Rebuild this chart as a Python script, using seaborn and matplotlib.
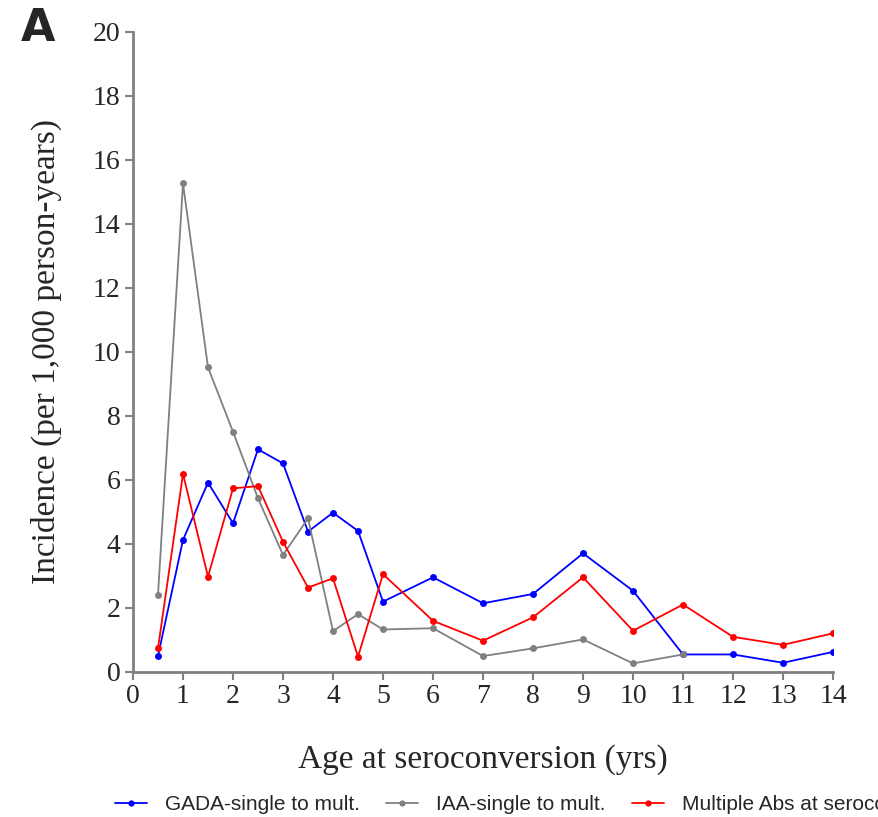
import pandas as pd
import matplotlib
matplotlib.use("Agg")
import matplotlib.pyplot as plt
import seaborn as sns

# Data
ages = [0.5, 1, 1.5, 2, 2.5, 3, 3.5, 4, 4.5, 5, 6, 7, 8, 9, 10, 11, 12, 13, 14]
gada = [0.49, 4.12, 5.91, 4.64, 6.95, 6.51, 4.38, 4.97, 4.40, 2.19, 2.95, 2.14, 2.43, 3.70, 2.53, 0.54, 0.54, 0.28, 0.62]
iaa_ages = [0.5, 1, 1.5, 2, 2.5, 3, 3.5, 4, 4.5, 5, 6, 7, 8, 9, 10, 11]
iaa = [2.40, 15.26, 9.51, 7.50, 5.42, 3.65, 4.79, 1.27, 1.80, 1.32, 1.36, 0.49, 0.73, 1.01, 0.26, 0.54]
multi = [0.73, 6.18, 2.97, 5.73, 5.80, 4.06, 2.63, 2.92, 0.47, 3.05, 1.59, 0.97, 1.70, 2.95, 1.28, 2.10, 1.09, 0.84, 1.20]

series_names = ["GADA-single to mult.", "IAA-single to mult.", "Multiple Abs at seroconversion"]
colors = ["#0000ff", "#808080", "#ff0000"]

df = pd.concat([
    pd.DataFrame({"Age": ages, "Incidence": gada, "Group": series_names[0]}),
    pd.DataFrame({"Age": iaa_ages, "Incidence": iaa, "Group": series_names[1]}),
    pd.DataFrame({"Age": ages, "Incidence": multi, "Group": series_names[2]}),
])

sns.set_style("ticks")
plt.rcParams["font.family"] = ["Liberation Serif", "DejaVu Serif"]

fig = plt.figure(figsize=(8.79, 8.17), dpi=100)
ax = fig.add_axes([0.1513, 0.1778, 0.7964, 0.7834])

sns.lineplot(
    data=df, x="Age", y="Incidence", hue="Group",
    palette=dict(zip(series_names, colors)), hue_order=series_names,
    marker="o", markersize=5, markeredgewidth=0, linewidth=1.3,
    ax=ax, sort=False,
)

ax.set_xlim(0, 14)
ax.set_ylim(0, 20)
ax.set_xticks(range(0, 15))
ax.set_yticks(range(0, 21, 2))
ax.tick_params(axis="both", labelsize=20, length=6, width=1.5, color="#7f7f7f", pad=3)
for s in ["left", "bottom"]:
    ax.spines[s].set_color("#7f7f7f")
    ax.spines[s].set_linewidth(2)
sns.despine(ax=ax)

ax.set_xlabel("Age at seroconversion (yrs)", fontsize=24, labelpad=25)
ax.set_ylabel("Incidence (per 1,000 person-years)", fontsize=24, labelpad=22)

# legend runs off the right edge, as in the original panel
leg = ax.legend(
    loc="center left", bbox_to_anchor=(0.109, 0.0147), bbox_transform=fig.transFigure,
    ncol=3, frameon=False, handlelength=1.54, columnspacing=1.25, handletextpad=0.87,
    prop={"family": "Liberation Sans", "size": 15},
)
for line in leg.get_lines():
    line.set_markersize(4.5)

fig.text(0.024, 0.992, "A", fontsize=32, fontweight="bold", family="DejaVu Sans",
         ha="left", va="top")

plt.savefig("out.png", dpi=100)
